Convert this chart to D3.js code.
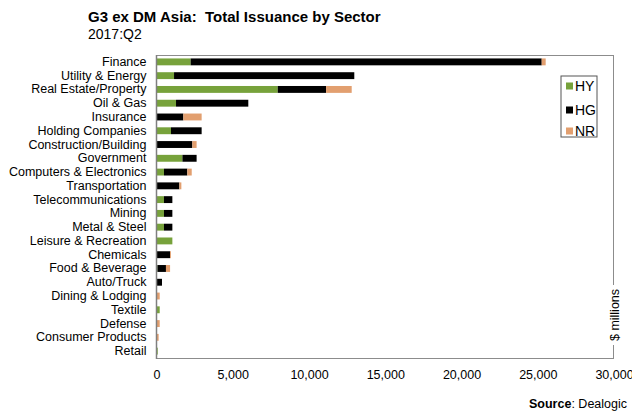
<!DOCTYPE html>
<html>
<head>
<meta charset="utf-8">
<script src="https://cdn.jsdelivr.net/npm/d3@7"></script>
<style>
  body { margin: 0; background: #fff; }
  svg { display: block; font-family: "Liberation Sans", Arial, sans-serif; }
</style>
</head>
<body>
<svg id="chart" width="632" height="414"></svg>
<script>
const categories = ["Finance","Utility & Energy","Real Estate/Property","Oil & Gas","Insurance","Holding Companies","Construction/Building","Government","Computers & Electronics","Transportation","Telecommunications","Mining","Metal & Steel","Leisure & Recreation","Chemicals","Food & Beverage","Auto/Truck","Dining & Lodging","Textile","Defense","Consumer Products","Retail"];
const seriesNames = ["HY","HG","NR"];
const hyValues = [2240,1150,7950,1280,0,950,0,1700,490,0,490,490,490,1040,0,60,0,0,210,0,0,80];
const hgValues = [23020,11820,3170,4740,1760,2010,2350,930,1530,1500,550,550,550,0,890,560,360,0,0,0,0,0];
const nrValues = [260,0,1680,0,1200,0,280,0,290,130,0,0,0,0,60,270,0,210,0,210,140,0];
const xTicks = [0,5000,10000,15000,20000,25000,30000];
const colors = {HY:"#77a23b", HG:"#000000", NR:"#e29f6f"};

const svg = d3.select("#chart");
const pLeft = 156.5, pRight = 614, pTop = 55, pBottom = 358;

const table = categories.map((c,i)=>({cat:c, HY:hyValues[i], HG:hgValues[i], NR:nrValues[i]}));
const stacked = d3.stack().keys(seriesNames)(table);

const x = d3.scaleLinear().domain([0,30000]).range([pLeft,pRight]);
const y = d3.scaleBand().domain(categories).range([pTop,pBottom]).paddingInner(0.5).paddingOuter(0.25);

// frame
svg.append("line").attr("x1",pLeft).attr("x2",pRight).attr("y1",pTop+0.5).attr("y2",pTop+0.5).attr("stroke","#8c8c8c");
svg.append("line").attr("x1",pLeft).attr("x2",pRight).attr("y1",pBottom+0.5).attr("y2",pBottom+0.5).attr("stroke","#8c8c8c");
svg.append("line").attr("x1",pRight-0.5).attr("x2",pRight-0.5).attr("y1",pTop).attr("y2",285).attr("stroke","#8c8c8c");
svg.append("line").attr("x1",pRight-0.5).attr("x2",pRight-0.5).attr("y1",345).attr("y2",pBottom+1).attr("stroke","#8c8c8c");

// bars
svg.append("g").selectAll("g").data(stacked).join("g")
  .attr("fill", d=>colors[d.key])
  .selectAll("rect").data(d=>d).join("rect")
  .attr("x", d=>x(d[0]))
  .attr("y", d=>y(d.data.cat))
  .attr("width", d=>Math.max(0, x(d[1])-x(d[0])))
  .attr("height", y.bandwidth());

// left axis line
svg.append("line").attr("x1",pLeft).attr("x2",pLeft).attr("y1",pTop).attr("y2",pBottom+1).attr("stroke","#7f7f7f").attr("stroke-width",1.5);

// category labels
const yAxis = d3.axisLeft(y).tickSize(0).tickPadding(10);
const gy = svg.append("g").attr("transform",`translate(${pLeft},0)`).call(yAxis);
gy.select(".domain").remove();
gy.selectAll("text").attr("font-size","12.5px").attr("fill","#000").attr("font-family","Liberation Sans, Arial, sans-serif");

// x tick labels
const xAxis = d3.axisBottom(x).tickValues(xTicks).tickSize(0).tickPadding(0).tickFormat(d3.format(","));
const gx = svg.append("g").attr("transform",`translate(0,370)`).call(xAxis);
gx.select(".domain").remove();
gx.selectAll("text").attr("font-size","12.5px").attr("fill","#000").attr("font-family","Liberation Sans, Arial, sans-serif");

// $ millions
svg.append("text").attr("transform","translate(619,315) rotate(-90)")
  .attr("text-anchor","middle").attr("font-size","12.5px").text("$ millions");

// legend
const lg = svg.append("g");
lg.append("rect").attr("x",561).attr("y",76).attr("width",36).attr("height",61)
  .attr("fill","#fff").attr("stroke","#555").attr("stroke-width",1);
const ly = [86,110,131];
seriesNames.forEach((s,i)=>{
  lg.append("rect").attr("x",566).attr("y",ly[i]-3.5).attr("width",7).attr("height",7).attr("fill",colors[s]);
  lg.append("text").attr("x",575).attr("y",ly[i]+5).attr("font-size","14px").text(s);
});

// title
svg.append("text").attr("x",88).attr("y",22).attr("font-size","15px").attr("font-weight","bold").style("white-space","pre").text("G3 ex DM Asia:  Total Issuance by Sector");
svg.append("text").attr("x",88).attr("y",39).attr("font-size","14px").text("2017:Q2");

// source
const src = svg.append("text").attr("x",627).attr("y",408).attr("text-anchor","end").attr("font-size","12.5px");
src.append("tspan").attr("font-weight","bold").text("Source");
src.append("tspan").text(": Dealogic");
</script>
</body>
</html>
